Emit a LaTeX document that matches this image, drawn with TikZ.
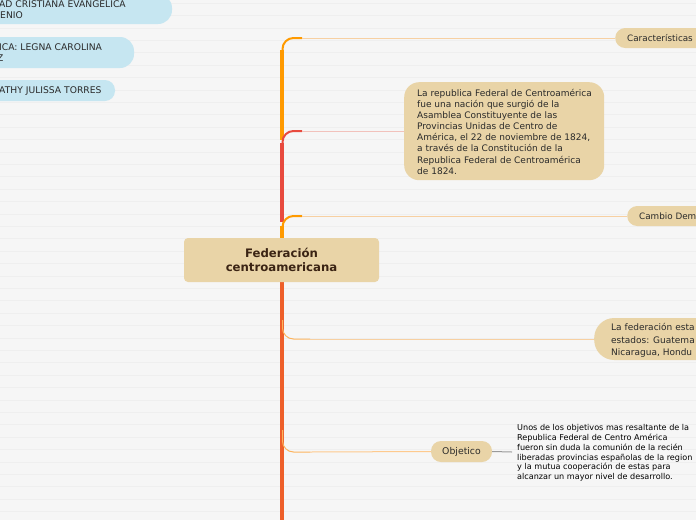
\documentclass[tikz,border=0pt]{standalone}
\usepackage{fontspec}
\setmainfont{DejaVu Sans}
\definecolor{bgc}{HTML}{F6F6F6}
\definecolor{bgline}{HTML}{EFEFEF}
\definecolor{tan}{HTML}{E9D4A7}
\definecolor{bluepill}{HTML}{C6E6F1}
\definecolor{trorange}{HTML}{FF9A00}
\definecolor{trred}{HTML}{E84A3E}
\definecolor{trbottom}{HTML}{EE5F2A}
\definecolor{brorange}{HTML}{FDB45E}
\definecolor{brorangelt}{HTML}{F7D0A2}
\definecolor{brred}{HTML}{EE7C75}
\definecolor{brredlt}{HTML}{F2C2BC}
\definecolor{darkbrown}{HTML}{3B2414}
\definecolor{txt}{HTML}{2A2A2A}
\definecolor{conn}{HTML}{9A9A9A}
\tikzset{
  pill/.style={draw=none, fill=tan, rounded corners=10pt},
  bluebox/.style={draw=none, fill=bluepill},
  bodytext/.style={text=txt, inner sep=0pt, align=left},
  pilltext/.style={text=txt, anchor=west, inner sep=0pt, font=\fontsize{9.2}{10.5}\selectfont},
  trunk/.style={line width=4pt, line cap=butt},
  elbow/.style={line width=2pt, rounded corners=11pt},
  branch/.style={line width=1pt, rounded corners=11pt},
  branchlt/.style={line width=1pt},
}
\begin{document}
\begin{tikzpicture}[x=1pt,y=-1pt]
\useasboundingbox (0,0) rectangle (696,520);
\clip (0,0) rectangle (696,520);
\fill[bgc] (0,0) rectangle (696,520);
\foreach \k in {0,...,42} {
  \draw[bgline, line width=0.5pt] (0,{3+12.4*\k}) -- (696,{3+12.4*\k});
}

% left blue pills (cut by left edge)
\fill[bluebox, rounded corners=14pt] (-40,-6) rectangle (172,24);
\node[pilltext] (u1) at (-1,4.5) {AD CRISTIANA EVANGELICA};
\node[pilltext] (u2) at (0,15.5) {ENIO};
\fill[bluebox, rounded corners=14pt] (-40,37) rectangle (134,68);
\node[pilltext] (c1) at (-1,47) {ICA: LEGNA CAROLINA};
\node[pilltext] (c2) at (-3,58) {Z};
\fill[bluebox, rounded corners=10pt] (-40,80) rectangle (115,101);
\node[pilltext] (a1) at (-1,91) {ATHY JULISSA TORRES};

% trunk
\draw[trunk, trorange] (282,50) -- (282,140);
\draw[trunk, trred] (282,143) -- (282,222);
\draw[trunk, trorange] (282,226) -- (282,240);
\draw[trunk, trbottom] (282,280) -- (282,520);

% nodes
\node[pill, anchor=west, minimum height=20pt, minimum width=110pt, inner sep=0pt] (car) at (615,38) {};
\node[text=txt, anchor=west, inner sep=0pt, font=\fontsize{8.8}{10}\selectfont] (cart) at (627,38) {Características};

\node[fill=tan, rounded corners=15pt, anchor=north west, minimum width=200pt, minimum height=98pt, inner sep=0pt] (rep) at (404,82) {};
\node[bodytext, anchor=north west, font=\fontsize{9}{11.1}\selectfont] (rept) at (417,89) {La republica Federal de Centroamérica\\fue una nación que surgió de la\\Asamblea Constituyente de las\\Provincias Unidas de Centro de\\América, el 22 de noviembre de 1824,\\a través de la Constitución de la\\Republica Federal de Centroamérica\\de 1824.};

\node[pill, anchor=west, minimum height=20pt, minimum width=100pt, inner sep=0pt] (cam) at (627,216) {};
\node[text=txt, anchor=west, inner sep=0pt, font=\fontsize{8.8}{10}\selectfont] (camt) at (639,216) {Cambio Dem};

\node[fill=tan, rounded corners=20pt, anchor=west, minimum width=140pt, minimum height=42pt, inner sep=0pt] (fed) at (594,339) {};
\node[bodytext, anchor=north west, font=\fontsize{9}{12.5}\selectfont] (fedt) at (611,323.5) {La federación esta\\estados: Guatema\\Nicaragua, Hondu};

\node[pill, minimum width=61pt, minimum height=21pt, inner sep=0pt, font=\fontsize{9.3}{10}\selectfont, text=txt] (obj) at (461.5,451.5) {Objetico};
\node[bodytext, anchor=north west, font=\fontsize{8.1}{9.9}\selectfont, text=black] (objt) at (517,424) {Unos de los objetivos mas resaltante de la\\Republica Federal de Centro América\\fueron sin duda la comunión de la recién\\liberadas provincias españolas de la region\\y la mutua cooperación de estas para\\alcanzar un mayor nivel de desarrollo.};
\coordinate (objin) at (512,452);
\draw[conn, line width=1pt] (obj.east) -- (objin);

% central node
\node[fill=tan, rounded corners=4pt, minimum width=195pt, minimum height=44pt, inner sep=0pt, align=center, text=darkbrown, font=\bfseries\fontsize{11.7}{14.5}\selectfont] (root) at (281.5,260) {Federación\\centroamericana};

% branches
\coordinate (j1) at (282.5,56);
\coordinate (k1) at (302,38);
\draw[elbow, trorange] (j1) |- (k1);
\draw[branchlt, brorangelt] (k1) -- (car.west);

\coordinate (j2) at (282.5,150);
\coordinate (k2) at (302,131);
\draw[elbow, trred] (j2) |- (k2);
\draw[branchlt, brredlt] (k2) -- (rep.west |- k2);

\coordinate (j3) at (282.5,234);
\coordinate (k3) at (302,216);
\draw[elbow, trorange] (j3) |- (k3);
\draw[branchlt, brorangelt] (k3) -- (cam.west);

\coordinate (j4) at (282.5,320);
\coordinate (k4) at (310,339);
\draw[branch, brorange] (j4) |- (k4);
\draw[branchlt, brorangelt] (k4) -- (fed.west);

\coordinate (j5) at (282.5,430);
\coordinate (k5) at (310,452);
\draw[branch, brorange] (j5) |- (k5);
\draw[branchlt, brorange!70] (k5) -- (obj.west);
\end{tikzpicture}
\end{document}
